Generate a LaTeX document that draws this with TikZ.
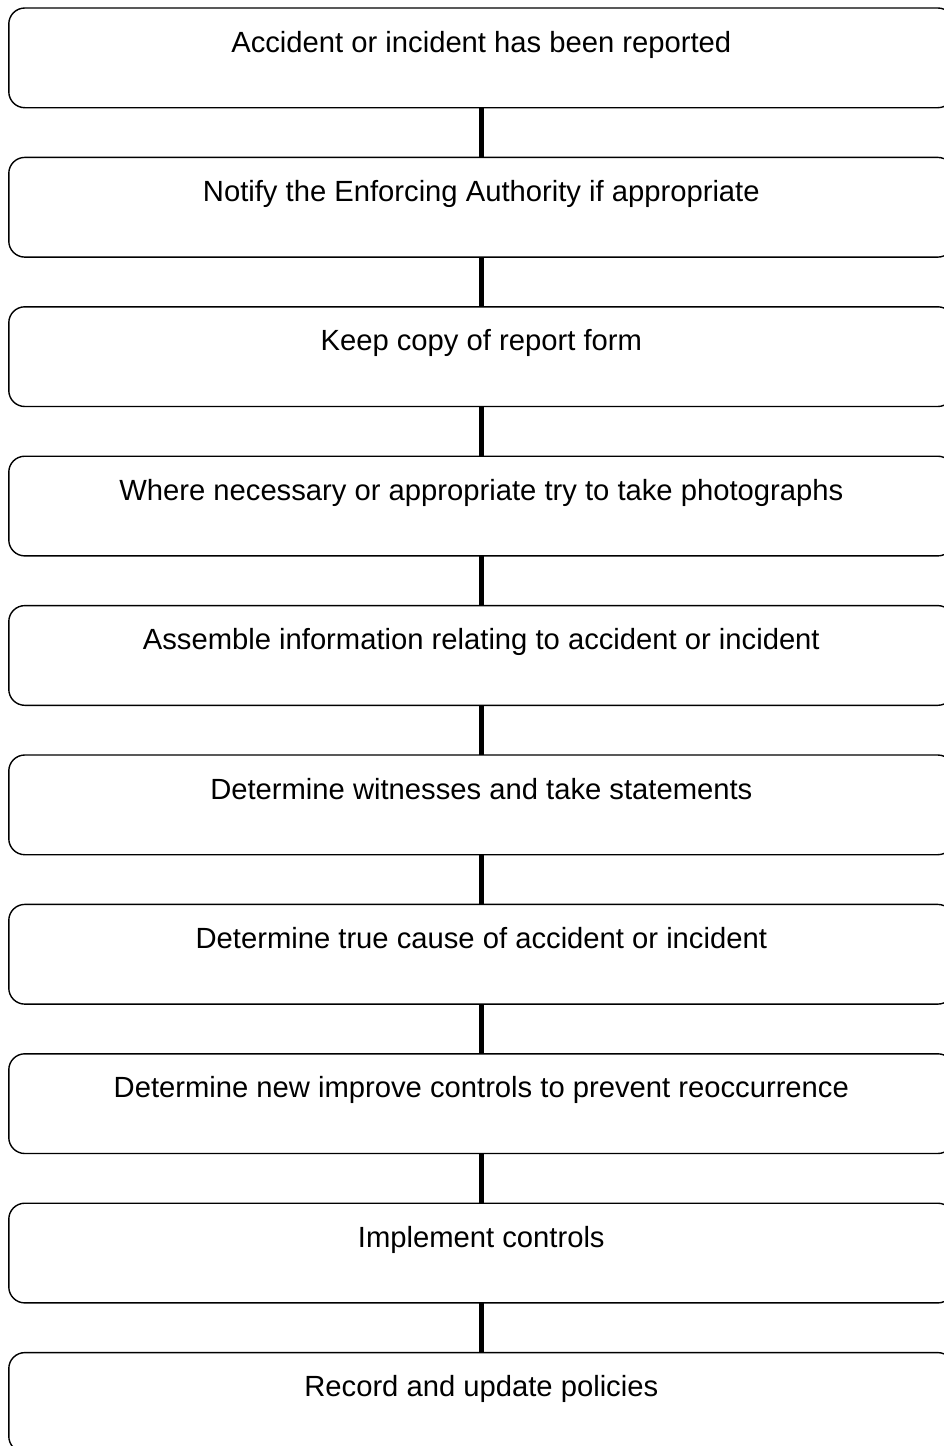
\documentclass[tikz,border=0pt]{standalone}
\usepackage{fontspec}
\setmainfont{Liberation Sans}
\usetikzlibrary{positioning}

\begin{document}
\begin{tikzpicture}[
    x=1pt, y=1pt,
    stage/.style={
      draw,
      line width=1.4pt,
      rounded corners=16pt,
      inner sep=0pt,
      outer sep=0pt,
      minimum width=945pt,
      text height=44pt,
      text depth=55.7pt,
      align=center,
      font=\fontsize{29.2}{34}\selectfont
    },
    link/.style={line width=5.5pt}
  ]
    \useasboundingbox (0,0) rectangle (943,-1446);

    \node[stage, anchor=north] (reported) at (481.3,-8) {Accident or incident has been reported};
    \node[stage, below=49.7pt of reported] (notify) {Notify the Enforcing Authority if appropriate};
    \node[stage, below=49.7pt of notify] (copy) {Keep copy of report form};
    \node[stage, below=49.7pt of copy] (photos) {Where necessary or appropriate try to take photographs};
    \node[stage, below=49.7pt of photos] (assemble) {Assemble information relating to accident or incident};
    \node[stage, below=49.7pt of assemble] (witness) {Determine witnesses and take statements};
    \node[stage, below=49.7pt of witness] (cause) {Determine true cause of accident or incident};
    \node[stage, below=49.7pt of cause] (controls) {Determine new improve controls to prevent reoccurrence};
    \node[stage, below=49.7pt of controls] (implement) {Implement controls};
    \node[stage, below=49.7pt of implement] (record) {Record and update policies};

    \draw[link] (reported) -- (notify);
    \draw[link] (notify) -- (copy);
    \draw[link] (copy) -- (photos);
    \draw[link] (photos) -- (assemble);
    \draw[link] (assemble) -- (witness);
    \draw[link] (witness) -- (cause);
    \draw[link] (cause) -- (controls);
    \draw[link] (controls) -- (implement);
    \draw[link] (implement) -- (record);
  \end{tikzpicture}
\end{document}
